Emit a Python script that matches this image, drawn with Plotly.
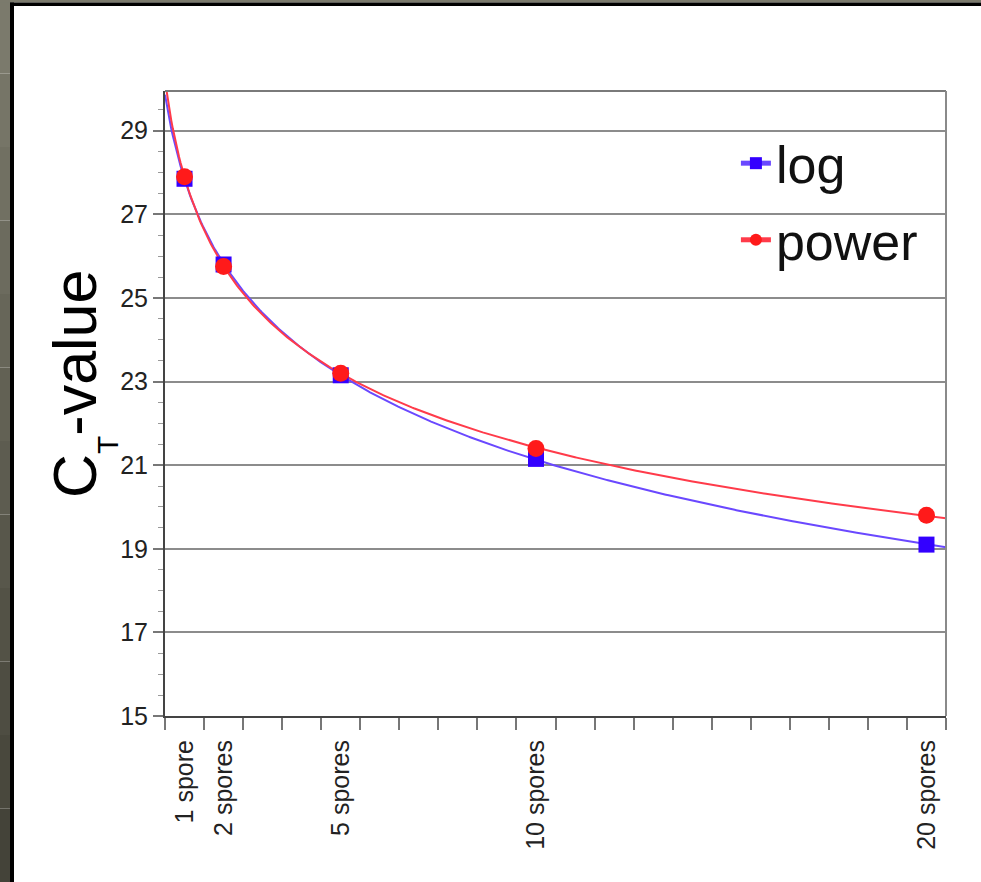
import numpy as np
import plotly.graph_objects as go

# ---- data ----
spores = [1, 2, 5, 10, 20]
spore_labels = ["1 spore", "2 spores", "5 spores", "10 spores", "20 spores"]
ct_log = [27.85, 25.8, 23.15, 21.15, 19.1]
ct_power = [27.9, 25.75, 23.2, 21.4, 19.8]
y_ticks = [15, 17, 19, 21, 23, 25, 27, 29]

# ---- trend lines fitted to the data (log and power fits) ----
x = np.array(spores, dtype=float)
b_log, a_log = np.polyfit(np.log(x), np.array(ct_log), 1)
b_pow, lna_pow = np.polyfit(np.log(x), np.log(np.array(ct_power)), 1)
xs = np.linspace(0.5, 20.5, 500)
fit_log = a_log + b_log * np.log(xs)
fit_pow = np.exp(lna_pow) * xs ** b_pow

BLUE = "#3300ff"
BLUE_LINE = "#6a48ff"
RED = "#ff1a1a"
RED_LINE = "#ff3b4a"
FONT = "Liberation Sans, Arial, Helvetica, sans-serif"

fig = go.Figure()
fig.add_trace(go.Scatter(x=xs, y=fit_log, mode="lines", line=dict(color=BLUE_LINE, width=2),
                         showlegend=False, hoverinfo="skip"))
fig.add_trace(go.Scatter(x=xs, y=fit_pow, mode="lines", line=dict(color=RED_LINE, width=2),
                         showlegend=False, hoverinfo="skip"))
fig.add_trace(go.Scatter(x=spores, y=ct_log, mode="markers",
                         marker=dict(symbol="square", size=16, color=BLUE),
                         showlegend=False, cliponaxis=False))
fig.add_trace(go.Scatter(x=spores, y=ct_power, mode="markers",
                         marker=dict(symbol="circle", size=17, color=RED),
                         showlegend=False, cliponaxis=False))
# legend entries
fig.add_trace(go.Scatter(x=[None], y=[None], mode="lines+markers", name="log", legendgroup="a",
                         line=dict(color=BLUE_LINE, width=3),
                         marker=dict(symbol="square", size=17, color=BLUE)))
fig.add_trace(go.Scatter(x=[None], y=[None], mode="lines+markers", name="power", legendgroup="b",
                         line=dict(color=RED_LINE, width=3),
                         marker=dict(symbol="circle", size=17, color=RED)))

W, H = 981, 882
L, R, T, B = 165, 35, 91, 166
pw, ph = W - L - R, H - T - B


def px_x(p):
    return (p - L) / pw


def px_y(p):
    return 1 - (p - T) / ph


shapes = []
# outer dark frame (left and top edges of the slide)
n = 12
c0 = np.array([0x7b, 0x7a, 0x6c])
c1 = np.array([0x44, 0x43, 0x39])
for i in range(n):
    c = (c0 + (c1 - c0) * i / (n - 1)).astype(int)
    shapes.append(dict(type="rect", xref="paper", yref="paper",
                       x0=px_x(0), x1=px_x(10),
                       y0=px_y(H * (i + 1) / n), y1=px_y(H * i / n),
                       fillcolor="rgb(%d,%d,%d)" % tuple(c), line=dict(width=0), layer="below"))
shapes.append(dict(type="rect", xref="paper", yref="paper", x0=px_x(0), x1=px_x(W),
                   y0=px_y(2.5), y1=px_y(0), fillcolor="#7b7a6c", line=dict(width=0), layer="below"))
shapes.append(dict(type="rect", xref="paper", yref="paper", x0=px_x(10), x1=px_x(W),
                   y0=px_y(6), y1=px_y(2.5), fillcolor="#000000", line=dict(width=0), layer="below"))
shapes.append(dict(type="rect", xref="paper", yref="paper", x0=px_x(10), x1=px_x(14),
                   y0=px_y(H), y1=px_y(2.5), fillcolor="#000000", line=dict(width=0), layer="below"))
# top and right plot-frame edges (lighter grey than the axes)
shapes.append(dict(type="line", xref="paper", yref="paper", x0=0, x1=1, y0=1, y1=1,
                   line=dict(color="#7a7a7a", width=2)))
shapes.append(dict(type="line", xref="paper", yref="paper", x0=1, x1=1, y0=0, y1=1,
                   line=dict(color="#8a8a8a", width=2)))

fig.update_layout(
    width=W, height=H,
    margin=dict(l=L, r=R, t=T, b=B),
    paper_bgcolor="white", plot_bgcolor="white",
    font=dict(family=FONT, color="#222222"),
    shapes=shapes,
    annotations=[dict(text="C<sub><sub>T</sub></sub>-value", textangle=-90,
                      xref="paper", yref="paper", x=px_x(82), y=px_y(384),
                      xanchor="center", yanchor="middle", showarrow=False,
                      font=dict(size=61, family=FONT, color="#000000"))],
    legend=dict(x=0.731, y=0.949, xanchor="left", yanchor="top",
                font=dict(size=52, color="#111111", family=FONT),
                bgcolor="rgba(0,0,0,0)", itemsizing="constant", tracegroupgap=6),
    xaxis=dict(range=[0.5, 20.5], tickvals=spores, ticktext=spore_labels, tickangle=-90,
               ticks="outside", ticklen=12, tickcolor="rgba(0,0,0,0)",
               tickfont=dict(size=25, family=FONT, color="#222222"),
               minor=dict(ticks="outside", ticklen=12, tick0=0.5, dtick=1,
                          tickcolor="#777777", tickwidth=1.5, showgrid=False),
               showgrid=False, zeroline=False,
               showline=True, mirror=False, linecolor="#444444", linewidth=2),
    yaxis=dict(range=[15, 29.95], tickvals=y_ticks,
               ticks="outside", ticklen=10, tickcolor="#777777", tickwidth=1.5,
               tickfont=dict(size=25, family=FONT, color="#222222"),
               minor=dict(ticks="outside", ticklen=5, dtick=0.5, tick0=15,
                          tickcolor="#999999", tickwidth=1, showgrid=False),
               showgrid=True, gridcolor="#8c8c8c", gridwidth=1.5, zeroline=False,
               showline=True, mirror=False, linecolor="#444444", linewidth=2),
)

fig.write_html("out.html", config={"displayModeBar": False},
               post_script="document.body.style.margin='0';document.body.style.overflow='hidden';")
